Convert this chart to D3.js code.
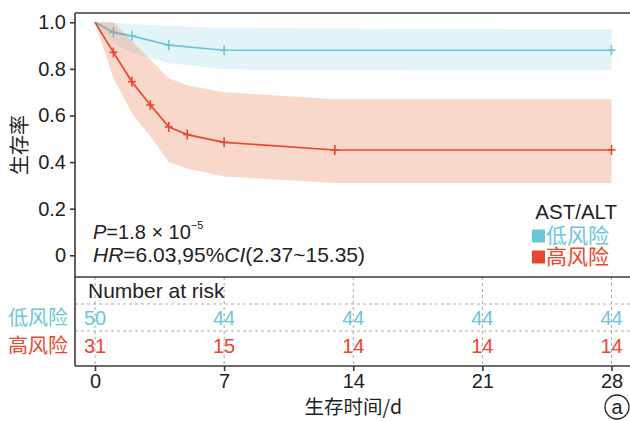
<!DOCTYPE html>
<html><head><meta charset="utf-8">
<script src="https://cdn.jsdelivr.net/npm/d3@7"></script>
<style>body{margin:0;background:#fff}svg{display:block;font-family:"Liberation Sans",Arial,sans-serif}</style>
</head><body><svg id="c" width="630" height="421"></svg>
<script>
// ---- data ----
const xTicks = [0, 7, 14, 21, 28];
const yTicks = [0, 0.2, 0.4, 0.6, 0.8, 1.0];
const yTickLabels = ["0", "0.2", "0.4", "0.6", "0.8", "1.0"];
const groups = ["低风险", "高风险"];
const lowTime  = [0, 1, 2, 4, 7, 28];
const lowSurv  = [1, 0.957, 0.942, 0.902, 0.880, 0.880];
const lowUpper = [1, 1, 0.992, 0.985, 0.975, 0.970];
const lowLower = [1, 0.910, 0.868, 0.825, 0.797, 0.795];
const lowCensor = [1, 2, 4, 7, 28];
const highTime  = [0, 1, 2, 3, 4, 5, 7, 13, 28];
const highSurv  = [1, 0.871, 0.745, 0.645, 0.551, 0.518, 0.485, 0.452, 0.452];
const highUpper = [1, 1, 0.92, 0.84, 0.76, 0.73, 0.70, 0.67, 0.67];
const highLower = [1, 0.76, 0.61, 0.51, 0.40, 0.373, 0.338, 0.31, 0.31];
const highCensor = [1, 2, 3, 4, 5, 7, 13, 28];
const riskLow  = [50, 44, 44, 44, 44];
const riskHigh = [31, 15, 14, 14, 14];

const BLUE = "#6cc6da", RED = "#e9472d", AX = "#3a3a3a";
const BLUE_BAND = "#6cc6da", RED_BAND = "#e76333";
const svg = d3.select("#c");
const x = d3.scaleLinear().domain([0, 28]).range([95, 611.5]);
const y = d3.scaleLinear().domain([0, 1]).range([255.3, 22.3]);
const L = 75, R = 630, TOP = 13, SEP = 277, BOT = 366;

function group(time, surv, up, lo, cens, col, band, bandOp) {
  const pts = time.map((t, i) => ({t, s: surv[i], u: up[i], l: lo[i]}));
  svg.append("path").datum(pts)
    .attr("d", d3.area().x(d => x(d.t)).y0(d => y(d.l)).y1(d => y(d.u)))
    .attr("fill", band).attr("fill-opacity", bandOp);
  svg.append("path").datum(pts)
    .attr("d", d3.line().x(d => x(d.t)).y(d => y(d.s)))
    .attr("fill", "none").attr("stroke", col).attr("stroke-width", 1.7);
  const cp = cens.map(c => ({t: c, s: surv[time.indexOf(c)]}));
  const mg = svg.append("g");
  mg.selectAll("line.v").data(cp).join("line").attr("class", "v")
    .attr("x1", d => x(d.t)).attr("x2", d => x(d.t))
    .attr("y1", d => y(d.s) - 5).attr("y2", d => y(d.s) + 5)
    .attr("stroke", col).attr("stroke-width", 1.6);
  mg.selectAll("line.h").data(cp).join("line").attr("class", "h")
    .attr("x1", d => x(d.t) - 4).attr("x2", d => x(d.t) + 4)
    .attr("y1", d => y(d.s)).attr("y2", d => y(d.s))
    .attr("stroke", col).attr("stroke-width", 1.6);
}
group(lowTime, lowSurv, lowUpper, lowLower, lowCensor, BLUE, BLUE_BAND, 0.2);
group(highTime, highSurv, highUpper, highLower, highCensor, RED, RED_BAND, 0.25);

// risk table grid
const g = svg.append("g");
xTicks.forEach(t => {
  g.append("line").attr("x1", x(t)).attr("x2", x(t)).attr("y1", SEP).attr("y2", BOT)
    .attr("stroke", "#aaa").attr("stroke-dasharray", "3,3");
});
[304, 331].forEach(yy => {
  g.append("line").attr("x1", L).attr("x2", R).attr("y1", yy).attr("y2", yy)
    .attr("stroke", "#aaa").attr("stroke-dasharray", "3,3");
});

// frame
[[L, TOP, R, TOP], [L, SEP, R, SEP], [L, BOT, R, BOT], [L, TOP, L, BOT]].forEach(a => {
  svg.append("line").attr("x1", a[0]).attr("y1", a[1]).attr("x2", a[2]).attr("y2", a[3])
    .attr("stroke", AX).attr("stroke-width", 1.6);
});

// y axis
const ya = svg.append("g").attr("transform", `translate(${L},0)`)
  .call(d3.axisLeft(y).tickValues(yTicks).tickSize(5).tickPadding(4)
    .tickFormat((d, i) => yTickLabels[i]));
ya.select(".domain").remove();
ya.selectAll("line").attr("stroke", AX).attr("stroke-width", 1.6);
ya.selectAll("text").attr("font-size", 20).attr("fill", "#222").attr("font-family", "Liberation Sans, Arial, sans-serif");

// x axis
const xa = svg.append("g").attr("transform", `translate(0,${BOT})`)
  .call(d3.axisBottom(x).tickValues(xTicks).tickSize(5).tickPadding(3));
xa.select(".domain").remove();
xa.selectAll("line").attr("stroke", AX).attr("stroke-width", 1.6);
xa.selectAll("text").attr("font-size", 20).attr("fill", "#222").attr("font-family", "Liberation Sans, Arial, sans-serif");

// titles
svg.append("text").attr("transform", "translate(27,145) rotate(-90)")
  .attr("text-anchor", "middle").attr("font-size", 20).attr("fill", "#222")
  .attr("font-family", "Noto Sans CJK SC").text("生存率");
svg.append("text").attr("x", x(14)).attr("y", 414).attr("text-anchor", "middle")
  .attr("font-size", 19.5).attr("fill", "#222").attr("font-family", "Noto Sans CJK SC")
  .text("生存时间/d");

// stats text
const t1 = svg.append("text").attr("x", 93).attr("y", 239).attr("font-size", 20).attr("fill", "#222");
t1.append("tspan").attr("font-style", "italic").text("P");
t1.append("tspan").text("=1.8 × 10");
t1.append("tspan").attr("font-size", 11).attr("dy", -10).text("−5");
const t2 = svg.append("text").attr("x", 93).attr("y", 262).attr("font-size", 21).attr("fill", "#222");
t2.append("tspan").attr("font-style", "italic").text("HR");
t2.append("tspan").text("=6.03,95%");
t2.append("tspan").attr("font-style", "italic").text("CI");
t2.append("tspan").text("(2.37~15.35)");

// legend
svg.append("text").attr("x", 617).attr("y", 219).attr("text-anchor", "end")
  .attr("font-size", 20.5).attr("fill", "#222").text("AST/ALT");
[[BLUE, groups[0], 236], [RED, groups[1], 257]].forEach(([c, lab, cy]) => {
  svg.append("rect").attr("x", 532).attr("y", cy - 6.5).attr("width", 13).attr("height", 13).attr("fill", c);
  svg.append("text").attr("x", 546).attr("y", cy + 7).attr("font-size", 21)
    .attr("fill", c).attr("font-family", "Noto Sans CJK SC").text(lab);
});

// risk table
svg.append("text").attr("x", 88).attr("y", 298).attr("font-size", 21).attr("fill", "#222").text("Number at risk");
[[riskLow, BLUE, 318], [riskHigh, RED, 346]].forEach(([arr, c, cy], k) => {
  svg.append("text").attr("x", 68).attr("y", cy + 7).attr("text-anchor", "end")
    .attr("font-size", 20).attr("fill", c).attr("font-family", "Noto Sans CJK SC").text(groups[k]);
  svg.append("g").selectAll("text").data(arr).join("text")
    .attr("x", (d, i) => x(xTicks[i])).attr("y", cy + 7).attr("text-anchor", "middle")
    .attr("font-size", 20).attr("fill", c).text(d => d);
});

// panel label
svg.append("circle").attr("cx", 617).attr("cy", 407).attr("r", 12)
  .attr("fill", "none").attr("stroke", "#222").attr("stroke-width", 1.3);
svg.append("text").attr("x", 617).attr("y", 414).attr("text-anchor", "middle")
  .attr("font-size", 20).attr("fill", "#222").text("a");
</script></body></html>
